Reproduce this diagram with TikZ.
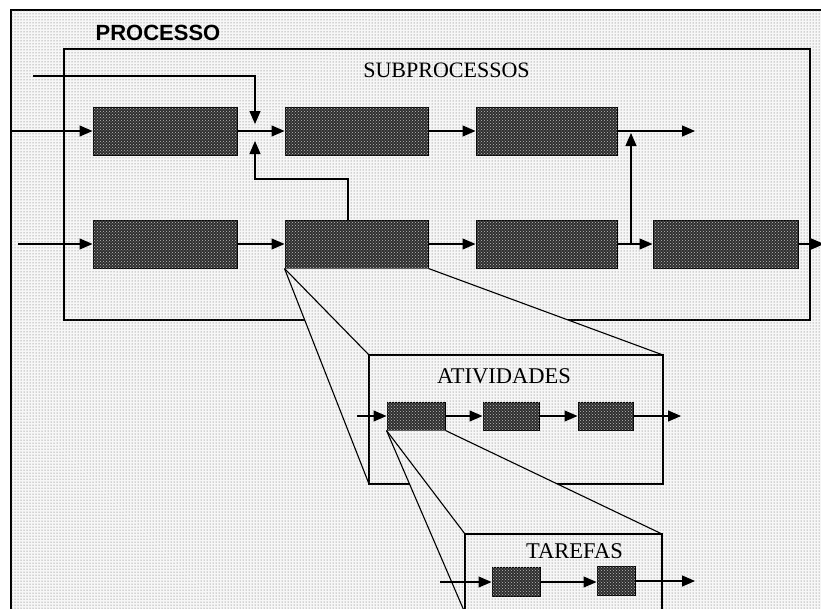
\documentclass[tikz,border=0pt]{standalone}
\usepackage{fontspec}
\setmainfont{Liberation Serif}
\setsansfont{Liberation Sans}
\usetikzlibrary{arrows.meta,calc,patterns}
\definecolor{bgdots}{gray}{0.97}
\definecolor{dotcol}{gray}{0.35}
\definecolor{boxfill}{gray}{0.18}
\definecolor{boxdots}{gray}{0.75}
\begin{document}
\begin{tikzpicture}[x=1pt,y=-1pt,
  bgfill/.style={fill=bgdots, postaction={pattern=dots, pattern color=dotcol}},
  frame/.style={draw=black, line width=1.1pt, bgfill, inner sep=0pt},
  boxstyle/.style={draw=black, line width=1pt, fill=boxfill, postaction={pattern=crosshatch dots, pattern color=boxdots}, inner sep=0pt},
  subbox/.style={boxstyle, minimum width=144pt, minimum height=48pt},
  smallbox/.style={boxstyle, minimum height=28pt},
  arr/.style={line width=1.1pt, -{Triangle[length=13pt,width=11pt]}},
  ln/.style={line width=1.1pt},
  titleserif/.style={font=\fontsize{22}{26}\selectfont},
  titlesmall/.style={font=\fontsize{22.5}{26}\selectfont}]
\useasboundingbox (0,0) rectangle (821,608);
\clip (0,0) rectangle (821,608);
\fill[white] (0,0) rectangle (821,608);
% outer frame
\draw[frame, line width=1.6pt] (11,10) rectangle (860,660);
\node[font=\fontsize{22}{26}\selectfont\sffamily\bfseries] (proc) at (158,33) {PROCESSO};
% subprocess frame
\node[frame, minimum width=746pt, minimum height=271pt] (P) at (437,184.5) {};
\node[titleserif] (subt) at (446.5,70) {SUBPROCESSOS};
% subprocess boxes
\node[subbox] (s1) at (165,131) {};
\node[subbox, minimum width=143pt] (s2) at (356.5,131) {};
\node[subbox, minimum width=141pt] (s3) at (546.5,131) {};
\node[subbox] (s4) at (165,244) {};
\node[subbox, minimum width=143pt] (s5) at (356.5,244) {};
\node[subbox, minimum width=141pt] (s6) at (546.5,244) {};
\node[subbox, minimum width=145pt] (s7) at (725.5,244) {};
% free ends
\coordinate (in1) at (11,131);
\coordinate (in4) at (18,244);
\coordinate (feed) at (33,76);
\coordinate (jd) at (255,124);
\coordinate (ju) at (255,141);
\coordinate (out3) at (695,131);
\coordinate (v0) at (631,244);
\coordinate (v1) at (631,133);
\coordinate (out7) at (824,244);
% connectors
\draw[arr] (in1) -- (s1.west);
\draw[arr] (s1.east) -- (s2.west);
\draw[arr] (s2.east) -- (s3.west);
\draw[arr] (s3.east) -- (out3);
\draw[arr] (feed) -| (jd);
\draw[arr] ([xshift=-8.5pt]s5.north) |- (255,179) -- (ju);
\draw[arr] (in4) -- (s4.west);
\draw[arr] (s4.east) -- (s5.west);
\draw[arr] (s5.east) -- (s6.west);
\draw[arr] (s6.east) -- (s7.west);
\draw[arr] (s7.east) -- (out7);
\draw[arr] (v0) -- (v1);
% activities box geometry
\coordinate (ANW) at (369,355);
\coordinate (ANE) at (663,355);
\coordinate (ASE) at (663,484);
\coordinate (ASW) at (369,484);
% funnel 1
\path[bgfill] (s5.south west) -- (s5.south east) -- (ANE) -- (ASE) -- (ASW) -- cycle;
\draw[ln] (s5.south west) -- (ANW);
\draw[ln] (s5.south west) -- (ASW);
\draw[ln] (s5.south east) -- (ANE);
\node[frame, minimum width=294pt, minimum height=129pt] (A) at (516,419.5) {};
\node[titlesmall] (att) at (504,376) {ATIVIDADES};
\node[smallbox, minimum width=58pt] (a1) at (416,416) {};
\node[smallbox, minimum width=56pt] (a2) at (511,416) {};
\node[smallbox, minimum width=55pt] (a3) at (605.5,416) {};
\coordinate (ina) at (357,416);
\coordinate (outa) at (681,416);
\draw[arr] (ina) -- (a1.west);
\draw[arr] (a1.east) -- (a2.west);
\draw[arr] (a2.east) -- (a3.west);
\draw[arr] (a3.east) -- (outa);
% tasks box geometry
\coordinate (TNW) at (465,534);
\coordinate (TNE) at (662,534);
\coordinate (TSE) at (662,613);
\coordinate (TSW) at (465,613);
% funnel 2
\path[bgfill] (a1.south west) -- (a1.south east) -- (TNE) -- (TSE) -- (TSW) -- cycle;
\draw[ln] (a1.south west) -- (TNW);
\draw[ln] (a1.south west) -- (TSW);
\draw[ln] (a1.south east) -- (TNE);
\node[frame, minimum width=197pt, minimum height=79pt] (T) at (563.5,573.5) {};
\node[titlesmall] (tt) at (574.5,551) {TAREFAS};
\node[smallbox, minimum width=48pt, minimum height=29pt] (t1) at (516,582) {};
\node[smallbox, minimum width=38pt, minimum height=29pt] (t2) at (616,581) {};
\coordinate (int) at (440,582);
\coordinate (outt) at (695,581);
\draw[arr] (int) -- (t1.west);
\draw[arr] (t1.east) -- (t2.west |- t1.east);
\draw[arr] (t2.east) -- (outt);
\end{tikzpicture}
\end{document}
